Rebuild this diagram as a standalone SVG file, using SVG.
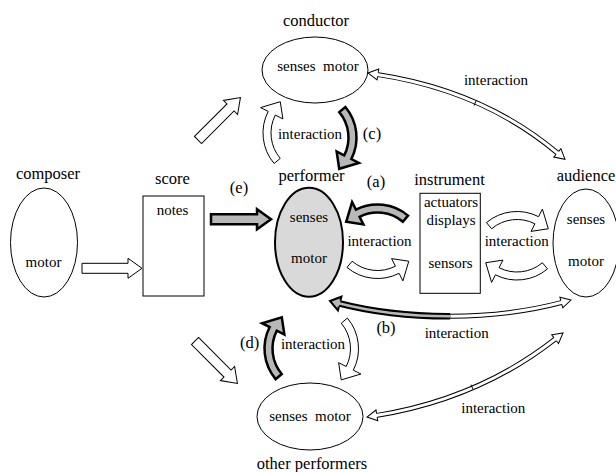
<svg xmlns="http://www.w3.org/2000/svg" width="616" height="472" viewBox="0 0 616 472">
<style>
text{font-family:'Liberation Serif','Times New Roman',serif;fill:#000;text-anchor:middle}
.lbl{font-size:16.5px}
.txt{font-size:15px}
.node{fill:#fff;stroke:#000;stroke-width:1}
.perf{fill:#d9d9d9;stroke:#000;stroke-width:2}
.wa{fill:#fff;stroke:#000;stroke-width:1;stroke-linejoin:miter}
.ga{fill:#b8b8b8;stroke:#000;stroke-width:2.5;stroke-linejoin:miter}
.bo{fill:none;stroke:#000;stroke-width:5}
.bi{fill:none;stroke:#fff;stroke-width:3}
.go{fill:none;stroke:#000;stroke-width:6.5}
.gi{fill:none;stroke:#b8b8b8;stroke-width:2.5}
.mk{fill:none;stroke:none}
.seam{stroke:#000;stroke-width:1}
</style>
<defs>
<path id="ca" d="M-30.53,2.61 A47.5,47.5 0 0 1 21.57,-3.32 L25.42,-10.9 L31.29,8.78 L14.07,11.38 L17.93,3.81 A39.5,39.5 0 0 0 -25.39,8.74 Z"/>
<path id="sa" d="M0,-5 H46 V-10 L60,0 L46,10 V5 H0 Z"/>
<marker id="hw" markerUnits="userSpaceOnUse" viewBox="-12 -8 14 16" refX="0" refY="0" markerWidth="14" markerHeight="16" orient="auto-start-reverse" overflow="visible">
<path d="M-10,-2 L-10,-5.5 L0,0 L-10,5.5 L-10,2" fill="#fff" stroke="#000" stroke-width="1"/>
</marker>
<marker id="hg" markerUnits="userSpaceOnUse" viewBox="-13 -9 15 18" refX="0" refY="0" markerWidth="15" markerHeight="18" orient="auto-start-reverse" overflow="visible">
<path d="M-10,-3 L-10,-7 L0,0 L-10,7 L-10,3" fill="#b8b8b8" stroke="#000" stroke-width="2"/>
</marker>
</defs>

<g id="connectors">
<use href="#sa" class="wa" transform="translate(82,268.3)"/>
<use href="#sa" class="ga" transform="translate(211,219.3)"/>
<use href="#sa" class="wa" transform="translate(198,140) rotate(-45)"/>
<use href="#sa" class="wa" transform="translate(195,341) rotate(45)"/>
<use href="#ca" class="ga" transform="translate(377.5,213) scale(-1,1)"/>
<use href="#ca" class="wa" transform="translate(377.5,270) scale(1,-1)"/>
<use href="#ca" class="wa" transform="translate(517,220)"/>
<use href="#ca" class="wa" transform="translate(517,271.5) scale(-1,-1)"/>
<use href="#ca" class="wa" transform="translate(271.5,133) rotate(-90)"/>
<use href="#ca" class="ga" transform="translate(348,137.5) rotate(90)"/>
<use href="#ca" class="ga" transform="translate(273,348.6) rotate(-90)"/>
<use href="#ca" class="wa" transform="translate(350,348.6) rotate(90)"/>
<path class="bo" d="M376.9,74.4 Q483.5,90.5 558.1,153.5"/>
<path class="bi" d="M376.9,74.4 Q483.5,90.5 558.1,153.5"/>
<path class="mk" d="M368,73 Q483.5,90.5 565,159.3" marker-start="url(#hw)" marker-end="url(#hw)"/>
<line class="seam" x1="474" y1="105.6" x2="476" y2="101"/>
<path class="bo" d="M450.25,316.25 Q510.5,316 562.3,302.3"/>
<path class="bi" d="M450.25,316.25 Q510.5,316 562.3,302.3"/>
<path class="mk" d="M450.25,316.25 Q510.5,316 571,300" marker-end="url(#hw)"/>
<path class="go" d="M337.7,303 Q390,316.5 450.25,316.25"/>
<path class="gi" d="M337.7,303 Q390,316.5 450.25,316.25"/>
<path class="mk" d="M330,301 Q390,316.5 450.25,316.25" marker-start="url(#hg)"/>
<path class="bo" d="M375.9,415.6 Q479,399 555.9,338.5"/>
<path class="bi" d="M375.9,415.6 Q479,399 555.9,338.5"/>
<path class="mk" d="M367,417 Q479,399 563,333" marker-start="url(#hw)" marker-end="url(#hw)"/>
<line class="seam" x1="471" y1="384.7" x2="473" y2="389.3"/>
<text class="txt" x="496" y="85">interaction</text>
<text class="txt" x="310" y="139">interaction</text>
<text class="lbl" x="372" y="139">(c)</text>
<text class="lbl" x="239" y="193">(e)</text>
<text class="lbl" x="376" y="187">(a)</text>
<text class="txt" x="379.5" y="246">interaction</text>
<text class="txt" x="516.7" y="246">interaction</text>
<text class="lbl" x="386" y="333">(b)</text>
<text class="txt" x="456.7" y="338">interaction</text>
<text class="lbl" x="249.7" y="348">(d)</text>
<text class="txt" x="313" y="349">interaction</text>
<text class="txt" x="493.3" y="413">interaction</text>
</g>

<g id="conductor">
<ellipse class="node" cx="315" cy="70" rx="53" ry="33"/>
<text class="lbl" x="316" y="26">conductor</text>
<text class="txt" x="318" y="71">senses&#160; motor</text>
</g>

<g id="composer">
<ellipse class="node" cx="44" cy="242.5" rx="33.5" ry="54.5"/>
<text class="lbl" x="48" y="179">composer</text>
<text class="txt" x="43.5" y="267">motor</text>
</g>

<g id="score">
<rect class="node" x="143" y="196" width="61" height="100"/>
<text class="lbl" x="172.5" y="184">score</text>
<text class="txt" x="172.5" y="215">notes</text>
</g>

<g id="performer">
<ellipse class="perf" cx="309" cy="242.3" rx="34" ry="54.5"/>
<text class="lbl" x="311.5" y="181">performer</text>
<text class="txt" x="309" y="222">senses</text>
<text class="txt" x="309" y="263">motor</text>
</g>

<g id="instrument">
<rect class="node" x="420" y="193.3" width="60.3" height="100"/>
<text class="lbl" x="449.5" y="185">instrument</text>
<text class="txt" x="451" y="207">actuators</text>
<text class="txt" x="451" y="225">displays</text>
<text class="txt" x="450.5" y="268">sensors</text>
</g>

<g id="audience">
<ellipse class="node" cx="586" cy="243" rx="33" ry="54"/>
<text class="lbl" x="586" y="181">audience</text>
<text class="txt" x="586" y="224">senses</text>
<text class="txt" x="586" y="266">motor</text>
</g>

<g id="other-performers">
<ellipse class="node" cx="310" cy="416.5" rx="53" ry="33.5"/>
<text class="txt" x="310" y="421">senses&#160; motor</text>
<text class="lbl" x="312" y="469">other performers</text>
</g>
</svg>
